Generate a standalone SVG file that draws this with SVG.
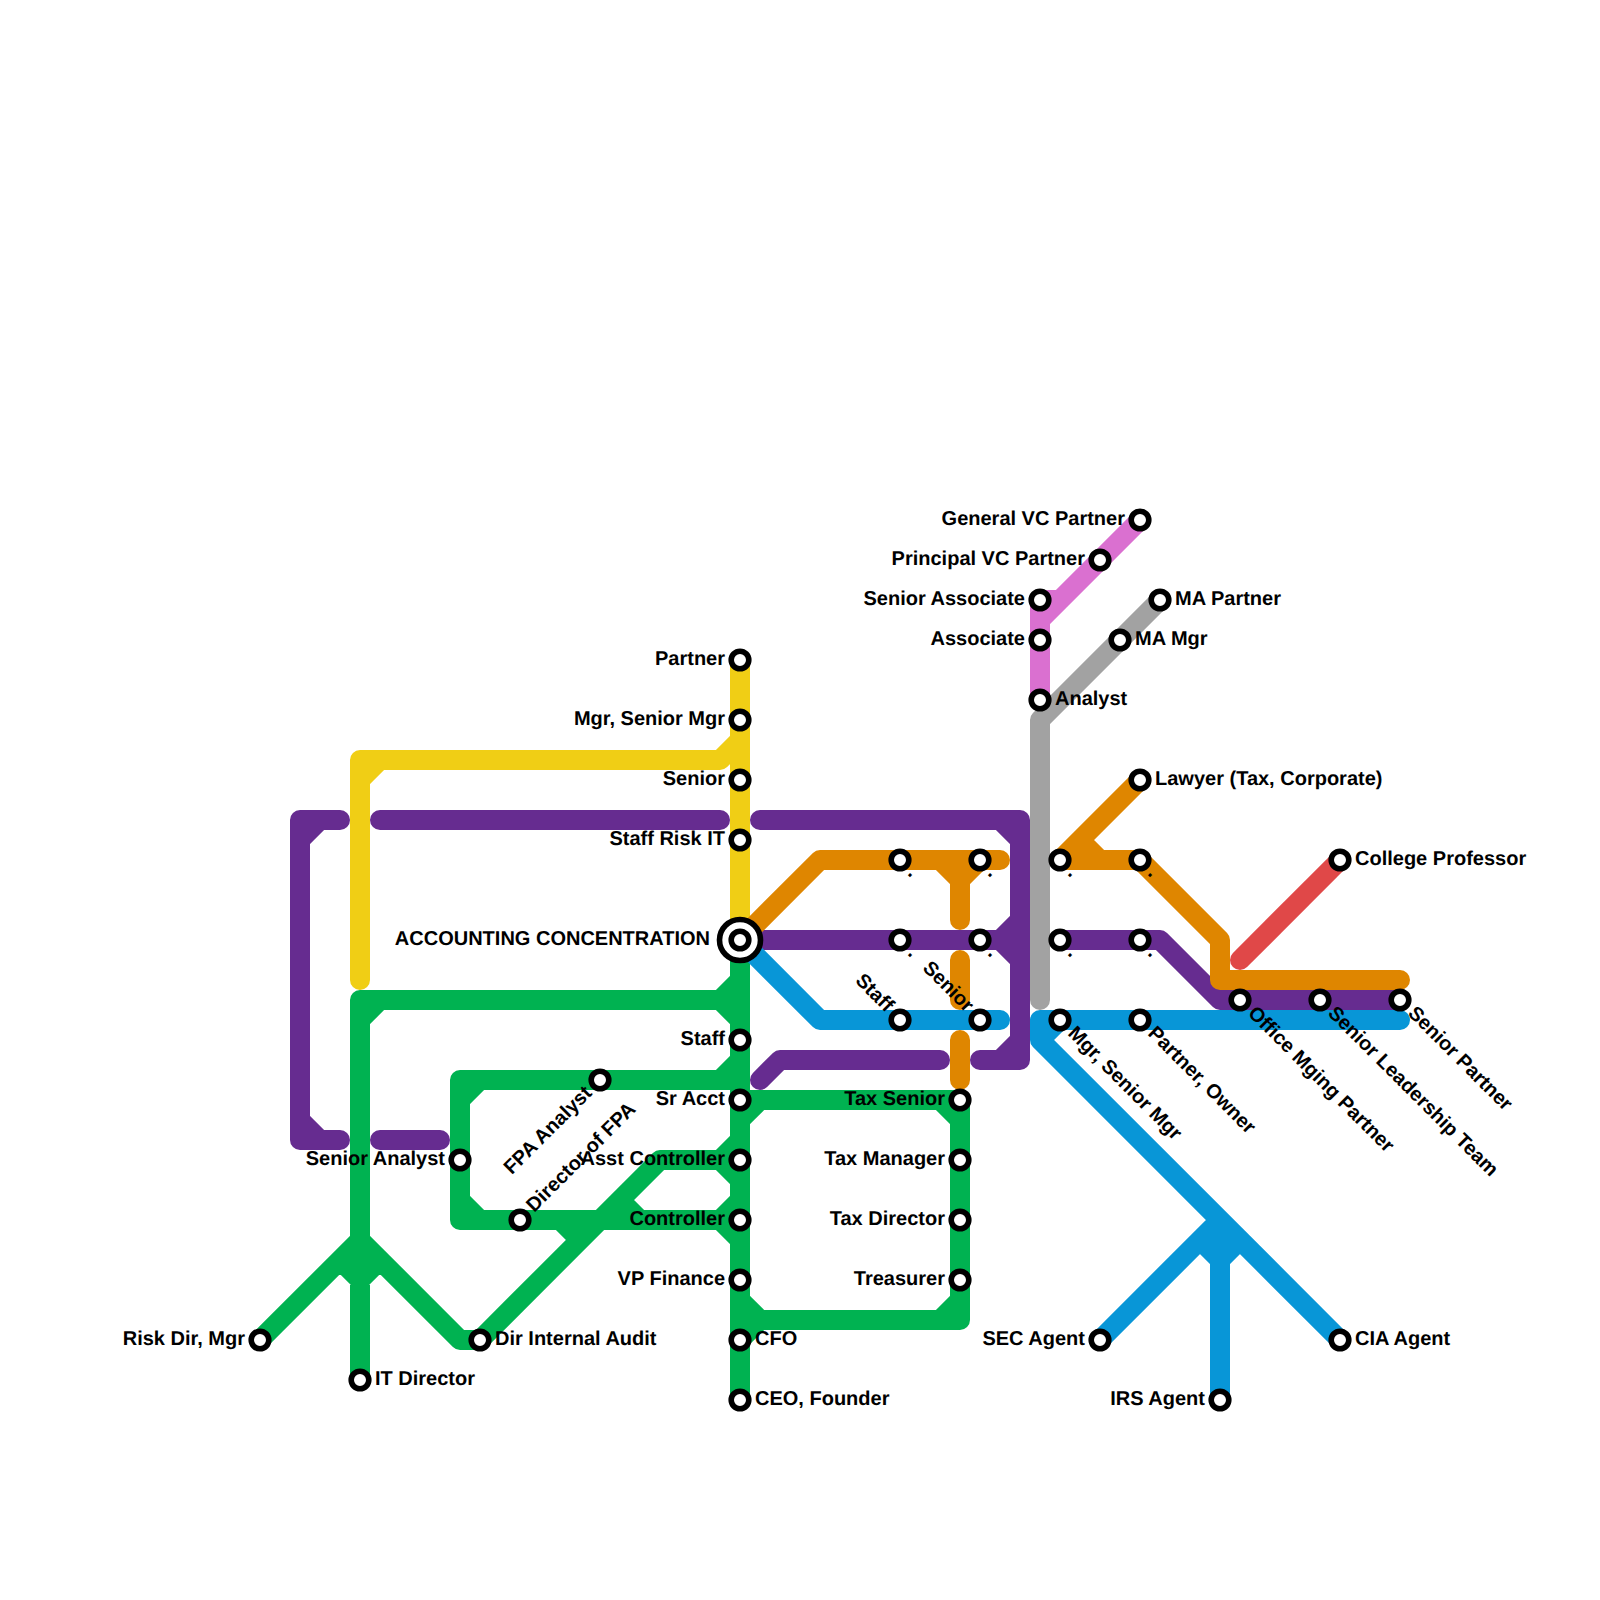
<svg xmlns="http://www.w3.org/2000/svg" width="1600" height="1600" viewBox="0 0 1600 1600">
<style>
.l{fill:none;stroke-width:20;stroke-linecap:round;stroke-linejoin:round}
.s{fill:#fff;stroke:#000;stroke-width:5.6}
text{font-family:"Liberation Sans",Arial,sans-serif;font-size:20px;font-weight:700;fill:#000;text-rendering:geometricPrecision}
.e{text-anchor:end}
.red{stroke:#e04848}.yel{stroke:#f0ce15}.pur{stroke:#662c90}.ora{stroke:#df8600}.blu{stroke:#0896d7}.gry{stroke:#a2a2a2}.pnk{stroke:#da70d0}.grn{stroke:#00b251}
</style>
<rect width="1600" height="1600" fill="#fff"/>
<g id="connectors">
<path class="l grn" d="M740 940V1400M360 1000H740M720 1000L740 980M720 1000L740 1020M360 1000V1380M360 1020L380 1000M260 1340L360 1240L460 1340H480M340 1260L360 1280L380 1260M480 1340L660 1160H740M720 1160L740 1140M720 1160L740 1180M460 1080H740M720 1080L740 1060M460 1080V1220H740M460 1100L480 1080M460 1200L480 1220M720 1220L740 1200M720 1220L740 1240M620 1200L640 1220M560 1220L580 1240M740 1100H960V1320H740M740 1120L760 1100M940 1100L960 1120M960 1300L940 1320M760 1320L740 1300M740 1340L760 1320"/>
<path class="l yel" d="M740 660V940M740 740L720 760H360V980M360 780L380 760"/>
<path class="l pur" d="M340 820H300V1140H340M300 840L320 820M300 1120L320 1140M380 1140H440M380 820H720M760 820H1020V1060H980M1000 820L1020 840M1020 1040L1000 1060M940 1060H780L760 1080M740 940H1020M1000 940L1020 920M1000 940L1020 960M1060 940H1160L1220 1000H1400"/>
<path class="l ora" d="M740 940L820 860H1000M940 860L960 880L980 860M960 860V920M960 960V1000M960 1040V1080M1140 780L1060 860H1140L1220 940V980H1400M1080 840L1100 860"/>
<path class="l blu" d="M740 940L820 1020H1000M1400 1020H1040V1040L1340 1340M1060 1020L1040 1040M1100 1340L1220 1220V1400M1200 1240L1220 1260L1240 1240"/>
<path class="l pnk" d="M1140 520L1040 620M1060 600H1040V700"/>
<path class="l gry" d="M1160 600L1040 720V1000"/>
<path class="l red" d="M1240 960L1340 860"/>
</g>
<g id="n-partner"><circle class="s" cx="740" cy="660" r="8.8"/><text class="e" x="725" y="665">Partner</text></g>
<g id="n-mgr"><circle class="s" cx="740" cy="720" r="8.8"/><text class="e" x="725" y="725">Mgr, Senior Mgr</text></g>
<g id="n-senior"><circle class="s" cx="740" cy="780" r="8.8"/><text class="e" x="725" y="785">Senior</text></g>
<g id="n-staff-risk"><circle class="s" cx="740" cy="840" r="8.8"/><text class="e" x="725" y="845">Staff Risk IT</text></g>
<g id="n-hub"><circle class="s" cx="740" cy="940" r="20.5"/><circle class="s" cx="740" cy="940" r="8.8"/><text class="e" x="710" y="945">ACCOUNTING CONCENTRATION</text></g>
<g id="n-staff"><circle class="s" cx="740" cy="1040" r="8.8"/><text class="e" x="725" y="1045">Staff</text></g>
<g id="n-sr-acct"><circle class="s" cx="740" cy="1100" r="8.8"/><text class="e" x="725" y="1105">Sr Acct</text></g>
<g id="n-fpa-analyst"><circle class="s" cx="600" cy="1080" r="8.8"/><text class="e" transform="translate(600 1080) rotate(-45)" x="-15" y="5">FPA Analyst</text></g>
<g id="n-dir-fpa"><circle class="s" cx="520" cy="1220" r="8.8"/><text transform="translate(520 1220) rotate(-45)" x="15" y="5">Director of FPA</text></g>
<g id="n-asst-controller"><circle class="s" cx="740" cy="1160" r="8.8"/><text class="e" x="725" y="1165">Asst Controller</text></g>
<g id="n-controller"><circle class="s" cx="740" cy="1220" r="8.8"/><text class="e" x="725" y="1225">Controller</text></g>
<g id="n-vp-finance"><circle class="s" cx="740" cy="1280" r="8.8"/><text class="e" x="725" y="1285">VP Finance</text></g>
<g id="n-cfo"><circle class="s" cx="740" cy="1340" r="8.8"/><text x="755" y="1345">CFO</text></g>
<g id="n-ceo"><circle class="s" cx="740" cy="1400" r="8.8"/><text x="755" y="1405">CEO, Founder</text></g>
<g id="n-senior-analyst"><circle class="s" cx="460" cy="1160" r="8.8"/><text class="e" x="445" y="1165">Senior Analyst</text></g>
<g id="n-risk-dir"><circle class="s" cx="260" cy="1340" r="8.8"/><text class="e" x="245" y="1345">Risk Dir, Mgr</text></g>
<g id="n-it-dir"><circle class="s" cx="360" cy="1380" r="8.8"/><text x="375" y="1385">IT Director</text></g>
<g id="n-dir-audit"><circle class="s" cx="480" cy="1340" r="8.8"/><text x="495" y="1345">Dir Internal Audit</text></g>
<g id="n-tax-senior"><circle class="s" cx="960" cy="1100" r="8.8"/><text class="e" x="945" y="1105">Tax Senior</text></g>
<g id="n-tax-manager"><circle class="s" cx="960" cy="1160" r="8.8"/><text class="e" x="945" y="1165">Tax Manager</text></g>
<g id="n-tax-director"><circle class="s" cx="960" cy="1220" r="8.8"/><text class="e" x="945" y="1225">Tax Director</text></g>
<g id="n-treasurer"><circle class="s" cx="960" cy="1280" r="8.8"/><text class="e" x="945" y="1285">Treasurer</text></g>
<g id="n-o1"><circle class="s" cx="900" cy="860" r="8.8"/><text transform="translate(900 860) rotate(45)" x="15" y="5">.</text></g>
<g id="n-o2"><circle class="s" cx="980" cy="860" r="8.8"/><text transform="translate(980 860) rotate(45)" x="15" y="5">.</text></g>
<g id="n-p1"><circle class="s" cx="900" cy="940" r="8.8"/><text transform="translate(900 940) rotate(45)" x="15" y="5">.</text></g>
<g id="n-p2"><circle class="s" cx="980" cy="940" r="8.8"/><text transform="translate(980 940) rotate(45)" x="15" y="5">.</text></g>
<g id="n-b-staff"><circle class="s" cx="900" cy="1020" r="8.8"/><text class="e" transform="translate(900 1020) rotate(45)" x="-15" y="5">Staff</text></g>
<g id="n-b-senior"><circle class="s" cx="980" cy="1020" r="8.8"/><text class="e" transform="translate(980 1020) rotate(45)" x="-15" y="5">Senior</text></g>
<g id="n-o3"><circle class="s" cx="1060" cy="860" r="8.8"/><text transform="translate(1060 860) rotate(45)" x="15" y="5">.</text></g>
<g id="n-o4"><circle class="s" cx="1140" cy="860" r="8.8"/><text transform="translate(1140 860) rotate(45)" x="15" y="5">.</text></g>
<g id="n-p3"><circle class="s" cx="1060" cy="940" r="8.8"/><text transform="translate(1060 940) rotate(45)" x="15" y="5">.</text></g>
<g id="n-p4"><circle class="s" cx="1140" cy="940" r="8.8"/><text transform="translate(1140 940) rotate(45)" x="15" y="5">.</text></g>
<g id="n-b-mgr"><circle class="s" cx="1060" cy="1020" r="8.8"/><text transform="translate(1060 1020) rotate(45)" x="15" y="5">Mgr, Senior Mgr</text></g>
<g id="n-b-partner"><circle class="s" cx="1140" cy="1020" r="8.8"/><text transform="translate(1140 1020) rotate(45)" x="15" y="5">Partner, Owner</text></g>
<g id="n-office"><circle class="s" cx="1240" cy="1000" r="8.8"/><text transform="translate(1240 1000) rotate(45)" x="15" y="5">Office Mging Partner</text></g>
<g id="n-slt"><circle class="s" cx="1320" cy="1000" r="8.8"/><text transform="translate(1320 1000) rotate(45)" x="15" y="5">Senior Leadership Team</text></g>
<g id="n-sr-partner"><circle class="s" cx="1400" cy="1000" r="8.8"/><text transform="translate(1400 1000) rotate(45)" x="15" y="5">Senior Partner</text></g>
<g id="n-lawyer"><circle class="s" cx="1140" cy="780" r="8.8"/><text x="1155" y="785">Lawyer (Tax, Corporate)</text></g>
<g id="n-professor"><circle class="s" cx="1340" cy="860" r="8.8"/><text x="1355" y="865">College Professor</text></g>
<g id="n-general-vc"><circle class="s" cx="1140" cy="520" r="8.8"/><text class="e" x="1125" y="525">General VC Partner</text></g>
<g id="n-principal-vc"><circle class="s" cx="1100" cy="560" r="8.8"/><text class="e" x="1085" y="565">Principal VC Partner</text></g>
<g id="n-sr-assoc"><circle class="s" cx="1040" cy="600" r="8.8"/><text class="e" x="1025" y="605">Senior Associate</text></g>
<g id="n-assoc"><circle class="s" cx="1040" cy="640" r="8.8"/><text class="e" x="1025" y="645">Associate</text></g>
<g id="n-analyst"><circle class="s" cx="1040" cy="700" r="8.8"/><text x="1055" y="705">Analyst</text></g>
<g id="n-ma-partner"><circle class="s" cx="1160" cy="600" r="8.8"/><text x="1175" y="605">MA Partner</text></g>
<g id="n-ma-mgr"><circle class="s" cx="1120" cy="640" r="8.8"/><text x="1135" y="645">MA Mgr</text></g>
<g id="n-sec"><circle class="s" cx="1100" cy="1340" r="8.8"/><text class="e" x="1085" y="1345">SEC Agent</text></g>
<g id="n-irs"><circle class="s" cx="1220" cy="1400" r="8.8"/><text class="e" x="1205" y="1405">IRS Agent</text></g>
<g id="n-cia"><circle class="s" cx="1340" cy="1340" r="8.8"/><text x="1355" y="1345">CIA Agent</text></g>
</svg>
